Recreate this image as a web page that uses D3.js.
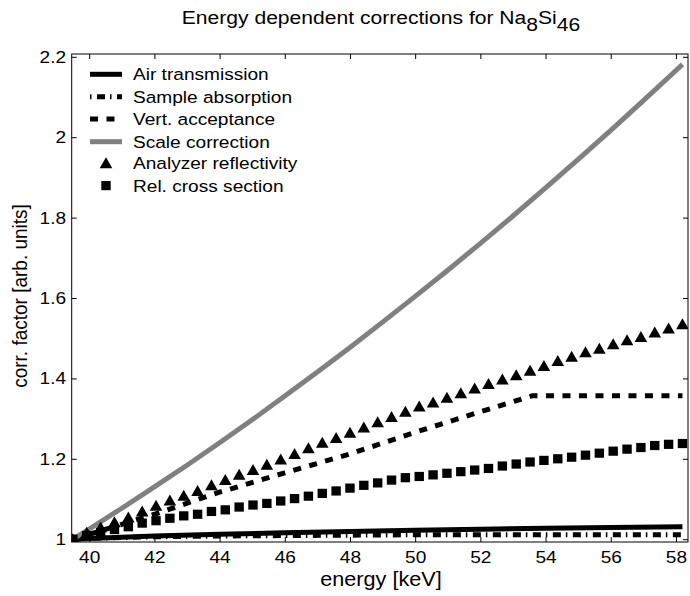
<!DOCTYPE html>
<html>
<head>
<meta charset="utf-8">
<script src="https://cdn.jsdelivr.net/npm/d3@7"></script>
<style>
  html, body { margin: 0; padding: 0; background: #fff; }
  svg text { font-family: "Liberation Sans", Arial, Helvetica, sans-serif; fill: #000; }
</style>
</head>
<body>
<svg id="chart" width="690" height="596"></svg>
<script>
// ---------------- data ----------------
const xTicks = [40, 42, 44, 46, 48, 50, 52, 54, 56, 58];
const yTicks = [1, 1.2, 1.4, 1.6, 1.8, 2, 2.2];

const lineEnergy = [39.5, 40, 41, 42, 44, 46, 48, 50, 52, 54, 56, 58.2];
const airTransmission = [1.0, 1.002, 1.005, 1.008, 1.012, 1.016, 1.019, 1.022, 1.025, 1.027, 1.029, 1.031];
const sampleAbsorption = [1.0, 1.002, 1.004, 1.006, 1.008, 1.009, 1.010, 1.011, 1.011, 1.011, 1.011, 1.011];

const vertEnergy = [39.5, 40, 42, 44, 46, 48, 50, 52, 53.6, 58.2];
const vertAcceptance = [1.0, 1.012, 1.062, 1.117, 1.165, 1.212, 1.266, 1.317, 1.357, 1.357];

const scaleEnergy = [39.5, 40, 41, 42, 43, 44, 45, 46, 47, 48, 49, 50, 51, 52, 53, 54, 55, 56, 57, 58, 58.2];
const scaleCorrection = [1.000, 1.025, 1.077, 1.130, 1.184, 1.240, 1.297, 1.356, 1.416, 1.477, 1.540, 1.604,
                         1.669, 1.736, 1.804, 1.874, 1.945, 2.017, 2.091, 2.166, 2.181];

const markerEnergy = [39.5, 39.925, 40.35, 40.775, 41.2, 41.625, 42.05, 42.475, 42.9, 43.325, 43.75, 44.175,
                      44.6, 45.025, 45.45, 45.875, 46.3, 46.725, 47.15, 47.575, 48.0, 48.425, 48.85, 49.275,
                      49.7, 50.125, 50.55, 50.975, 51.4, 51.825, 52.25, 52.675, 53.1, 53.525, 53.95, 54.375,
                      54.8, 55.225, 55.65, 56.075, 56.5, 56.925, 57.35, 57.775, 58.2];
const analyzerReflectivity = [1.000, 1.016, 1.029, 1.042, 1.054, 1.069, 1.083, 1.096, 1.108, 1.120, 1.134, 1.147,
                              1.160, 1.172, 1.185, 1.198, 1.212, 1.226, 1.240, 1.252, 1.265, 1.278, 1.291, 1.304,
                              1.317, 1.330, 1.340, 1.352, 1.363, 1.375, 1.386, 1.397, 1.408, 1.419, 1.431, 1.443,
                              1.454, 1.465, 1.474, 1.485, 1.495, 1.503, 1.514, 1.524, 1.535];
const relCrossSection = [1.000, 1.009, 1.017, 1.024, 1.031, 1.040, 1.046, 1.052, 1.058, 1.062, 1.069, 1.073,
                         1.080, 1.085, 1.089, 1.095, 1.101, 1.107, 1.114, 1.120, 1.127, 1.134, 1.140, 1.147,
                         1.153, 1.156, 1.160, 1.164, 1.168, 1.172, 1.176, 1.182, 1.187, 1.192, 1.196, 1.200,
                         1.204, 1.209, 1.214, 1.219, 1.224, 1.228, 1.233, 1.236, 1.238];

const legendLabels = ["Air transmission", "Sample absorption", "Vert. acceptance", "Scale correction",
                      "Analyzer reflectivity", "Rel. cross section"];

// ---------------- layout ----------------
const svg = d3.select("#chart");
const L = 71.7, R = 688, T = 54, B = 542;
const SX = 1.11; // horizontal text stretch seen in the reference
const x = d3.scaleLinear().domain([39.463, 58.37]).range([L, R]);
const y = d3.scaleLinear().domain([0.993, 2.207]).range([B, T]);
const gray = "#808080";

svg.append("defs").append("clipPath").attr("id", "clip")
  .append("rect").attr("x", L).attr("y", T).attr("width", R - L).attr("height", B - T);

const plot = svg.append("g").attr("clip-path", "url(#clip)");
const line = d3.line().x(d => x(d[0])).y(d => y(d[1]));
const zip = (a, b) => a.map((v, i) => [v, b[i]]);

plot.append("path").datum(zip(lineEnergy, airTransmission)).attr("d", line)
  .attr("fill", "none").attr("stroke", "#000").attr("stroke-width", 5);
plot.append("path").datum(zip(lineEnergy, sampleAbsorption)).attr("d", line)
  .attr("fill", "none").attr("stroke", "#000").attr("stroke-width", 5)
  .attr("stroke-dasharray", "8,5,1.5,5.5");
plot.append("path").datum(zip(vertEnergy, vertAcceptance)).attr("d", line)
  .attr("fill", "none").attr("stroke", "#000").attr("stroke-width", 5)
  .attr("stroke-dasharray", "8,8.5");
plot.append("path").datum(zip(scaleEnergy, scaleCorrection)).attr("d", line)
  .attr("fill", "none").attr("stroke", gray).attr("stroke-width", 5);

const triPath = "M0,-6L6.3,5L-6.3,5Z";
plot.selectAll(".tri").data(zip(markerEnergy, analyzerReflectivity)).enter()
  .append("path").attr("class", "tri").attr("d", triPath)
  .attr("transform", d => `translate(${x(d[0])},${y(d[1])})`)
  .attr("fill", "#000");
plot.selectAll(".sq").data(zip(markerEnergy, relCrossSection)).enter()
  .append("rect").attr("class", "sq")
  .attr("x", d => x(d[0]) - 4.7).attr("y", d => y(d[1]) - 4.6)
  .attr("width", 9.4).attr("height", 9.2)
  .attr("fill", "#000");

// axes box with inward ticks
const tickLen = 5;
const axG = svg.append("g");
axG.append("rect").attr("x", L).attr("y", T).attr("width", R - L).attr("height", B - T)
  .attr("fill", "none").attr("stroke", "#000").attr("stroke-width", 1);
const bottomAxis = d3.axisBottom(x).tickValues(xTicks).tickSize(-tickLen).tickPadding(9).tickFormat(d3.format("d"));
const topAxis = d3.axisTop(x).tickValues(xTicks).tickSize(-tickLen).tickFormat("");
const leftAxis = d3.axisLeft(y).tickValues(yTicks).tickSize(-tickLen).tickPadding(5).tickFormat(d => String(d));
const rightAxis = d3.axisRight(y).tickValues(yTicks).tickSize(-tickLen).tickFormat("");

function styleAxis(g) {
  g.select(".domain").remove();
  g.selectAll("line").attr("stroke", "#000").attr("stroke-width", 1);
  g.selectAll("text").attr("font-size", 17.2).attr("font-family", "'Liberation Sans', Arial, sans-serif")
    .attr("fill", "#000").attr("transform", `scale(${SX},1)`);
}
axG.append("g").attr("transform", `translate(0,${B})`).call(bottomAxis).call(styleAxis);
axG.append("g").attr("transform", `translate(0,${T})`).call(topAxis).call(styleAxis);
axG.append("g").attr("transform", `translate(${L},0)`).call(leftAxis).call(styleAxis);
axG.append("g").attr("transform", `translate(${R},0)`).call(rightAxis).call(styleAxis);

// title
const title = svg.append("text").attr("transform", `translate(381,24) scale(${SX},1)`)
  .attr("text-anchor", "middle").attr("font-size", 19);
title.append("tspan").text("Energy dependent corrections for Na");
title.append("tspan").attr("dy", 7).text("8");
title.append("tspan").attr("dy", -7).text("Si");
title.append("tspan").attr("dy", 7).text("46");

// axis labels
svg.append("text").attr("transform", `translate(381,585.5) scale(${SX},1)`).attr("text-anchor", "middle")
  .attr("font-size", 19.5).text("energy [keV]");
svg.append("text").attr("transform", `translate(27,296) scale(${SX},1) rotate(-90)`).attr("text-anchor", "middle")
  .attr("font-size", 19).text("corr. factor [arb. units]");

// legend
const lg = svg.append("g");
const rowY = [74.3, 96.7, 119, 141.7, 163.3, 185.6];
const lx0 = 90, lx1 = 122, tx = 133;
const styles = [
  {stroke: "#000", dash: null},
  {stroke: "#000", dash: "1.5,5.5,8,5"},
  {stroke: "#000", dash: "8,8.5"},
  {stroke: gray, dash: null}
];
styles.forEach((s, i) => {
  const yy = rowY[i];
  const p = lg.append("path").datum([[lx0, yy], [lx1, yy]])
    .attr("d", d3.line())
    .attr("stroke", s.stroke).attr("stroke-width", 5).attr("fill", "none");
  if (s.dash) p.attr("stroke-dasharray", s.dash);
});
lg.append("path").attr("d", triPath).attr("transform", `translate(106,${rowY[4]})`).attr("fill", "#000");
lg.append("rect").attr("x", 106 - 4.7).attr("y", rowY[5] - 4.6).attr("width", 9.4).attr("height", 9.2).attr("fill", "#000");
legendLabels.forEach((t, i) => {
  lg.append("text").attr("transform", `translate(${tx},${rowY[i]}) scale(${SX},1)`)
    .attr("dy", "0.35em").attr("font-size", 17.2).text(t);
});
</script>
</body>
</html>
